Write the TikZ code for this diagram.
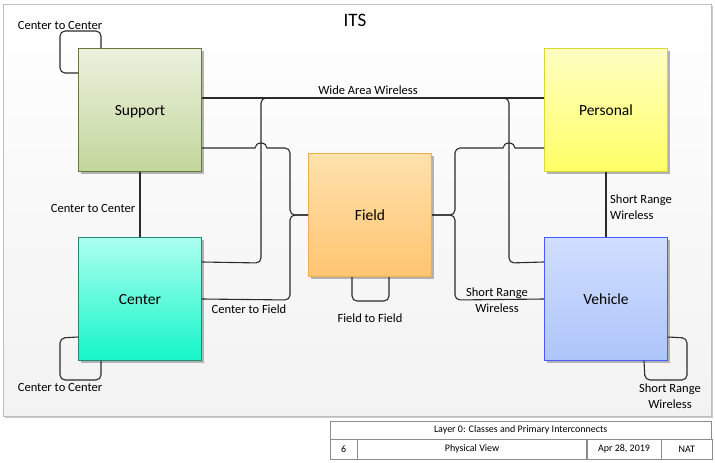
\documentclass[tikz,border=0pt]{standalone}
\usepackage{fontspec}
\setmainfont{Carlito}
\usetikzlibrary{positioning,shadows}
\definecolor{ItsFrame}{HTML}{BEBEBE}
\definecolor{ItsLine}{HTML}{2B2B2B}
\definecolor{SupTop}{HTML}{EBF1DE}
\definecolor{SupBot}{HTML}{C3D69B}
\definecolor{SupEdge}{HTML}{66793C}
\definecolor{PerTop}{HTML}{FFFFC2}
\definecolor{PerBot}{HTML}{FFFF66}
\definecolor{PerEdge}{HTML}{DADA2A}
\definecolor{FldTop}{HTML}{FFE1AD}
\definecolor{FldBot}{HTML}{FFC571}
\definecolor{FldEdge}{HTML}{F2AE4C}
\definecolor{CenTop}{HTML}{ADFFEF}
\definecolor{CenBot}{HTML}{14F5C8}
\definecolor{CenEdge}{HTML}{1F8C70}
\definecolor{VehTop}{HTML}{D0DEFF}
\definecolor{VehBot}{HTML}{AEC5FA}
\definecolor{VehEdge}{HTML}{4A5AFF}

\begin{document}
\begin{tikzpicture}[x=1pt,y=-1pt,
  cls/.style={line width=1pt,minimum width=123pt,minimum height=123pt,inner sep=0pt,
    text height=10pt,text depth=0pt,
    shading=axis,font=\fontsize{15.5}{18}\selectfont,
    drop shadow={shadow xshift=2pt,shadow yshift=-2pt,fill=black!30,opacity=1}},
  supportc/.style={draw=SupEdge,top color=SupTop,bottom color=SupBot},
  personalc/.style={draw=PerEdge,top color=PerTop,bottom color=PerBot},
  fieldc/.style={draw=FldEdge,top color=FldTop,bottom color=FldBot},
  centerc/.style={draw=CenEdge,top color=CenTop,bottom color=CenBot},
  vehiclec/.style={draw=VehEdge,top color=VehTop,bottom color=VehBot},
  conn/.style={draw=ItsLine,line width=1.1pt,rounded corners=5pt},
  lbl/.style={inner sep=0pt,font=\fontsize{12.5}{15.5}\selectfont,align=center},
  tb/.style={draw=black!45,fill=white,inner sep=0pt,anchor=north west,
    font=\fontsize{10}{11}\selectfont}
]
  \useasboundingbox (0,0) rectangle (715,463);
  % drawing frame
  \path[draw=ItsFrame,line width=1pt,top color=white,bottom color=black!5,
    drop shadow={shadow xshift=1.5pt,shadow yshift=-1.5pt,fill=black!20,opacity=1}]
    (3,4) rectangle (711,416);
  \node[font=\fontsize{19}{22}\selectfont] (title) at (355,20) {ITS};

  % classes
  \node[cls,supportc] (support) at (140,110) {Support};
  \node[cls,centerc,below=65pt of support] (center) {Center};
  \node[cls,personalc,right=342pt of support] (personal) {Personal};
  \node[cls,vehiclec,below=65pt of personal] (vehicle) {Vehicle};
  \node[cls,fieldc] (field) at (370,215) {Field};

  % interconnects
  \draw[conn] (support) -- (center);
  \draw[conn] (personal) -- (vehicle);
  \draw[conn] ([yshift=12pt]support.east) -- ([yshift=12pt]personal.west);
  \draw[conn] ([yshift=37pt]center.east) -- (261,263) -- (261,98) -- (509,98)
    -- (509,263) -- ([yshift=37pt]vehicle.west);
  \draw[conn] ([yshift=-38pt]support.east) [sharp corners] -- (255,148)
    arc[start angle=180,end angle=0,x radius=6pt,y radius=5pt]
    [rounded corners=5pt] -- (290,148) -- (290,215) -- (field.west);
  \draw[conn] (center.east) -- (290,300) -- (290,215) -- (field.west);
  \draw[conn] ([yshift=-38pt]personal.west) [sharp corners] -- (515,148)
    arc[start angle=0,end angle=180,x radius=6pt,y radius=5pt]
    [rounded corners=5pt] -- (455,148) -- (455,215) -- (field.east);
  \draw[conn] (vehicle.west) -- (455,300) -- (455,215) -- (field.east);
  % self loops
  \draw[conn] ([xshift=-39pt]support.north) -- (101,31) -- (60,31) -- (60,73)
    -- ([yshift=37pt]support.west);
  \draw[conn] ([yshift=-38pt]center.west) -- (60,338) -- (60,380) -- (101,380)
    -- ([xshift=-39pt]center.south);
  \draw[conn] ([yshift=-38pt]vehicle.east) -- (687,338) -- (687,380) -- (645,380)
    -- ([xshift=38pt]vehicle.south);
  \draw[conn] ([xshift=-18pt]field.south) -- (352,301) -- (389,301)
    -- ([xshift=19pt]field.south);

  % flow labels
  \node[lbl] (ccTop) at (60,25) {Center to Center};
  \node[lbl] (ccMid) at (93,208) {Center to Center};
  \node[lbl] (ccBot) at (60,387) {Center to Center};
  \node[lbl] (waw) at (368,90) {Wide Area Wireless};
  \node[lbl] (c2f) at (249,309) {Center to Field};
  \node[lbl] (f2f) at (370,318) {Field to Field};
  \node[lbl] (srwField) at (497,300) {Short Range\\Wireless};
  \node[lbl,align=left,anchor=west] (srwPV) at (610,207) {Short Range\\Wireless};
  \node[lbl] (srwLoop) at (670,396) {Short Range\\Wireless};

  % title block
  \node[tb,minimum width=381pt,minimum height=18pt] (tbhead) at (330,421)
    {Layer 0: Classes and Primary Interconnects};
  \node[tb,minimum width=27pt,minimum height=20pt] (tbnum) at (330,439) {6};
  \node[tb,minimum width=229pt,minimum height=20pt,right=0pt of tbnum,anchor=west] (tbview) {Physical View};
  \node[tb,minimum width=74pt,minimum height=20pt,right=0pt of tbview,anchor=west] (tbdate) {Apr 28, 2019};
  \node[tb,minimum width=51pt,minimum height=20pt,right=0pt of tbdate,anchor=west] (tbauth) {NAT};
\end{tikzpicture}
\end{document}
